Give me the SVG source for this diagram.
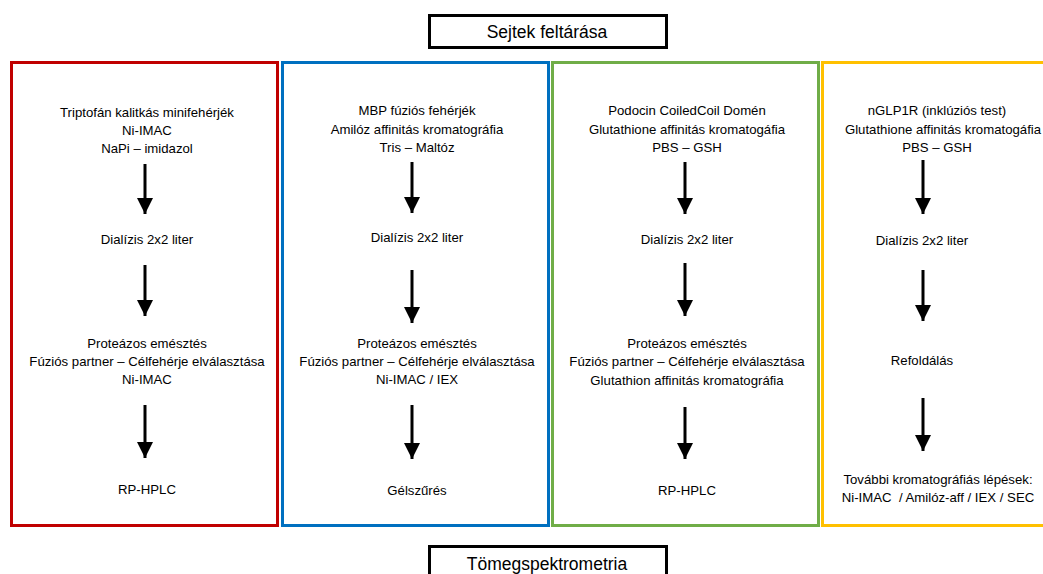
<svg xmlns="http://www.w3.org/2000/svg" width="1043" height="574" viewBox="0 0 1043 574">
<defs>
<style>
.t{font-family:"Liberation Sans",Arial,sans-serif;font-size:13.2px;fill:#000;text-anchor:middle}
.h{font-family:"Liberation Sans",Arial,sans-serif;font-size:17.5px;fill:#000;text-anchor:middle}
.ar{stroke:#000;stroke-width:3;fill:none;marker-end:url(#ah)}
.box{fill:#fff;stroke-width:3}
</style>
<marker id="ah" markerUnits="userSpaceOnUse" markerWidth="16" markerHeight="20" refX="16" refY="8" orient="auto" viewBox="0 0 16 16">
<path d="M0,0 L16,8 L0,16 Z" fill="#000"/>
</marker>
</defs>
<rect width="1043" height="574" fill="#fff"/>
<g id="sejtek">
<rect x="429.5" y="15.5" width="237" height="32" fill="#fff" stroke="#000" stroke-width="3"/>
<text class="h" x="547" y="38">Sejtek feltárása</text>
</g>
<g id="col-red">
<rect class="box" x="11.5" y="62.5" width="266" height="463" stroke="#C00000"/>
<text class="t" x="147" y="117">Triptofán kalitkás minifehérjék</text>
<text class="t" x="147" y="135">Ni-IMAC</text>
<text class="t" x="147" y="153">NaPi – imidazol</text>
<text class="t" x="147" y="244">Dialízis 2x2 liter</text>
<text class="t" x="147" y="348">Proteázos emésztés</text>
<text class="t" x="147" y="366">Fúziós partner – Célfehérje elválasztása</text>
<text class="t" x="147" y="384">Ni-IMAC</text>
<text class="t" x="147" y="494">RP-HPLC</text>
</g>
<g id="col-blue">
<rect class="box" x="282.5" y="62.5" width="266" height="463" stroke="#0070C0"/>
<text class="t" x="417" y="115">MBP fúziós fehérjék</text>
<text class="t" x="417" y="134">Amilóz affinitás kromatográfia</text>
<text class="t" x="417" y="152">Tris – Maltóz</text>
<text class="t" x="417" y="242">Dialízis 2x2 liter</text>
<text class="t" x="417" y="348">Proteázos emésztés</text>
<text class="t" x="417" y="366">Fúziós partner – Célfehérje elválasztása</text>
<text class="t" x="417" y="384">Ni-IMAC / IEX</text>
<text class="t" x="417" y="495">Gélszűrés</text>
</g>
<g id="col-green">
<rect class="box" x="552.5" y="62.5" width="266" height="463" stroke="#70AD47"/>
<text class="t" x="687" y="115">Podocin CoiledCoil Domén</text>
<text class="t" x="687" y="134">Glutathione affinitás kromatogáfia</text>
<text class="t" x="687" y="152">PBS – GSH</text>
<text class="t" x="687" y="244">Dialízis 2x2 liter</text>
<text class="t" x="687" y="348">Proteázos emésztés</text>
<text class="t" x="687" y="366">Fúziós partner – Célfehérje elválasztása</text>
<text class="t" x="687" y="385">Glutathion affinitás kromatográfia</text>
<text class="t" x="687" y="495">RP-HPLC</text>
</g>
<g id="col-yellow">
<rect class="box" x="822.5" y="62.5" width="240" height="463" stroke="#FFC000"/>
<text class="t" x="937" y="115">nGLP1R (inklúziós test)</text>
<text class="t" x="943" y="134">Glutathione affinitás kromatogáfia</text>
<text class="t" x="937" y="152">PBS – GSH</text>
<text class="t" x="922" y="245">Dialízis 2x2 liter</text>
<text class="t" x="922" y="365">Refoldálás</text>
<text class="t" x="938" y="484">További kromatográfiás lépések:</text>
<text class="t" x="938" y="502" style="white-space:pre">Ni-IMAC  / Amilóz-aff / IEX / SEC</text>
</g>
<g id="tomeg">
<rect x="429.5" y="546.5" width="237" height="40" fill="#fff" stroke="#000" stroke-width="3"/>
<text class="h" x="547" y="570">Tömegspektrometria</text>
</g>
<g id="connectors">
<line class="ar" x1="145" y1="164" x2="145" y2="214"/>
<line class="ar" x1="145" y1="265" x2="145" y2="316"/>
<line class="ar" x1="145" y1="405" x2="145" y2="458"/>
<line class="ar" x1="412" y1="162" x2="412" y2="213"/>
<line class="ar" x1="412" y1="270" x2="412" y2="323"/>
<line class="ar" x1="412" y1="405" x2="412" y2="459"/>
<line class="ar" x1="685" y1="162" x2="685" y2="214"/>
<line class="ar" x1="685" y1="263" x2="685" y2="316"/>
<line class="ar" x1="685" y1="407" x2="685" y2="459"/>
<line class="ar" x1="923" y1="160" x2="923" y2="214"/>
<line class="ar" x1="923" y1="270" x2="923" y2="321"/>
<line class="ar" x1="923" y1="398" x2="923" y2="451"/>
</g>
</svg>
